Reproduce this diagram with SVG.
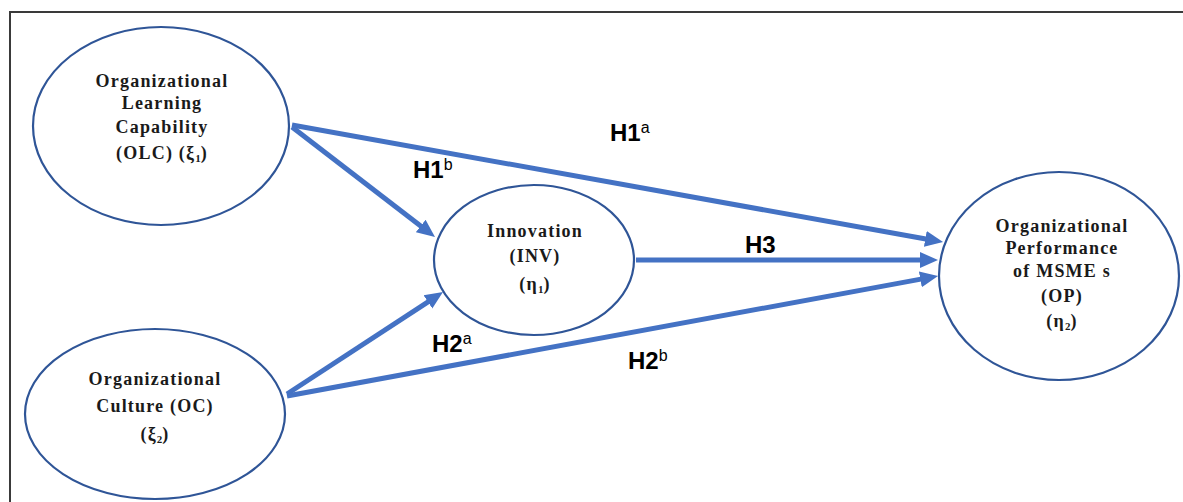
<svg xmlns="http://www.w3.org/2000/svg" width="1183" height="502" viewBox="0 0 1183 502">
<style>
.node{fill:#fff;stroke:#2f5597;stroke-width:2.2}
.nt{font-family:"Liberation Serif","Times New Roman",serif;font-weight:bold;font-size:18px;letter-spacing:1.2px;fill:#1a1a1a;text-anchor:middle}
.sub{font-size:11px;letter-spacing:0}
.conn{stroke:#4472c4;stroke-width:5;fill:none;marker-end:url(#ah)}
.lbl{font-family:"Liberation Sans",Arial,sans-serif;font-weight:bold;font-size:24px;fill:#000}
.sup{font-size:16px;font-weight:normal}
</style>
<defs>
<marker id="ah" markerUnits="userSpaceOnUse" markerWidth="20" markerHeight="18" viewBox="0 -9 20 18" refX="2" refY="0" orient="auto">
<path d="M0,-8 L18,0 L0,8 z" fill="#4472c4"/>
</marker>
</defs>
<rect width="1183" height="502" fill="#fff"/>
<path d="M10,502 L10,12 L1183,12" fill="none" stroke="#3a3a3a" stroke-width="2"/>
<g id="connectors">
<line class="conn" x1="292" y1="125" x2="927.3" y2="239.2"/>
<line class="conn" x1="292" y1="127" x2="422.3" y2="227.2"/>
<line class="conn" x1="636" y1="260" x2="922" y2="260"/>
<line class="conn" x1="287" y1="394" x2="429.6" y2="300.8"/>
<line class="conn" x1="287" y1="396" x2="922.3" y2="278.9"/>
</g>
<g id="olc">
<ellipse class="node" cx="161" cy="126" rx="128" ry="99"/>
<text class="nt" x="162" y="87">Organizational</text>
<text class="nt" x="162" y="109">Learning</text>
<text class="nt" x="162" y="133">Capability</text>
<text class="nt" x="162" y="159">(OLC) (ξ<tspan class="sub" dy="3">1</tspan><tspan dy="-3">)</tspan></text>
</g>
<g id="oc">
<ellipse class="node" cx="155" cy="414" rx="130" ry="85"/>
<text class="nt" x="155" y="385">Organizational</text>
<text class="nt" x="155" y="412">Culture (OC)</text>
<text class="nt" x="155" y="440">(ξ<tspan class="sub" dy="3">2</tspan><tspan dy="-3">)</tspan></text>
</g>
<g id="inv">
<ellipse class="node" cx="534" cy="260" rx="100" ry="75"/>
<text class="nt" x="535" y="237">Innovation</text>
<text class="nt" x="535" y="262">(INV)</text>
<text class="nt" x="535" y="290">(η<tspan class="sub" dy="3">1</tspan><tspan dy="-3">)</tspan></text>
</g>
<g id="op">
<ellipse class="node" cx="1059" cy="276" rx="120" ry="104"/>
<text class="nt" x="1062" y="232">Organizational</text>
<text class="nt" x="1062" y="254">Performance</text>
<text class="nt" x="1062" y="277">of MSME s</text>
<text class="nt" x="1062" y="302">(OP)</text>
<text class="nt" x="1062" y="327">(η<tspan class="sub" dy="3">2</tspan><tspan dy="-3">)</tspan></text>
</g>
<g id="labels">
<text class="lbl" x="610" y="141">H1<tspan class="sup" dy="-8">a</tspan></text>
<text class="lbl" x="413" y="178">H1<tspan class="sup" dy="-8">b</tspan></text>
<text class="lbl" x="745" y="253">H3</text>
<text class="lbl" x="432" y="352">H2<tspan class="sup" dy="-8">a</tspan></text>
<text class="lbl" x="628" y="369">H2<tspan class="sup" dy="-8">b</tspan></text>
</g>
</svg>
